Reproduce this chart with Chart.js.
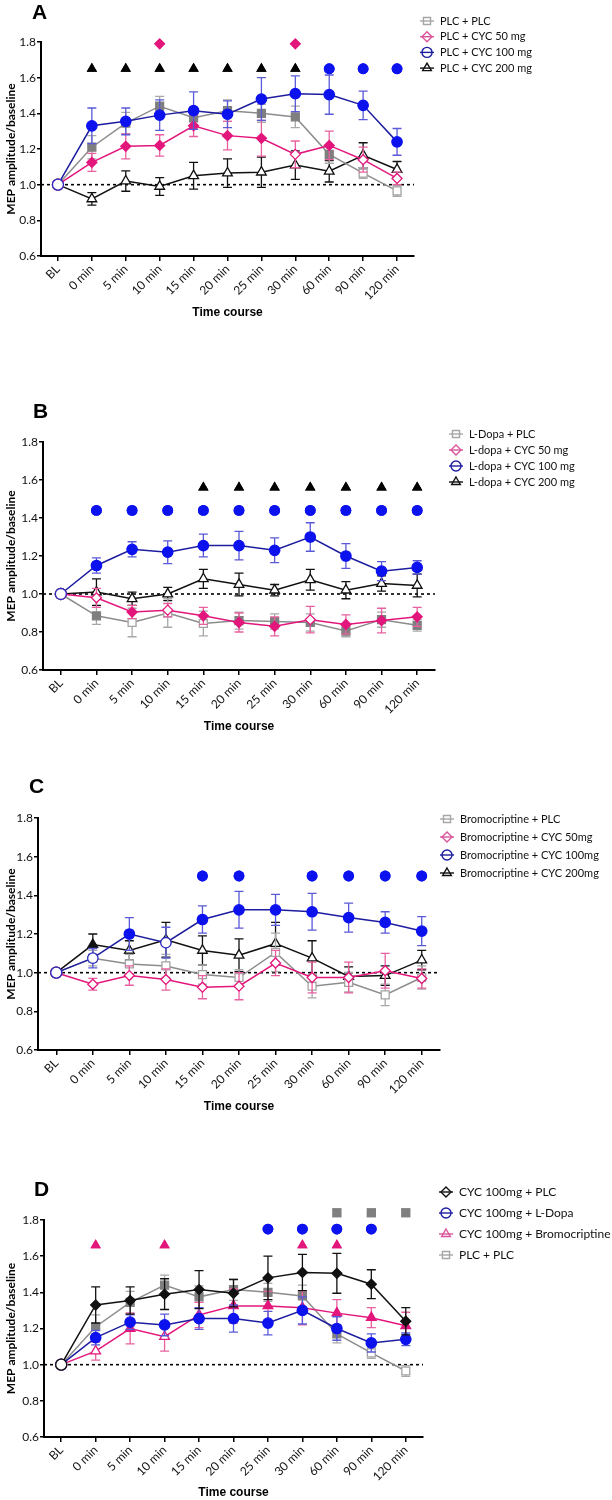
<!DOCTYPE html>
<html>
<head>
<meta charset="utf-8">
<script src="https://cdn.jsdelivr.net/npm/chart.js@4.4.1/dist/chart.umd.min.js"></script>
<style>
  body { margin: 0; background: #fff; }
  #wrap { position: relative; width: 612px; height: 1500px; }
  canvas { position: absolute; left: 0; }
</style>
</head>
<body>
<div id="wrap">
  <canvas id="chartA" width="612" height="340" style="top:0px"></canvas>
  <canvas id="chartB" width="612" height="420" style="top:340px"></canvas>
  <canvas id="chartC" width="612" height="370" style="top:760px"></canvas>
  <canvas id="chartD" width="612" height="370" style="top:1130px"></canvas>
</div>
<script>
const timeLabels = ['BL', '0 min', '5 min', '10 min', '15 min', '20 min', '25 min', '30 min', '60 min', '90 min', '120 min'];

// Panel A
const aPlcPlc = [1.00, 1.21, 1.345, 1.44, 1.375, 1.415, 1.40, 1.38, 1.17, 1.065, 0.965];
const aPlcPlcErr = [0, 0.065, 0.06, 0.055, 0.06, 0.06, 0.05, 0.06, 0.05, 0.03, 0.03];
const aCyc50 = [1.00, 1.125, 1.215, 1.22, 1.33, 1.275, 1.26, 1.17, 1.22, 1.14, 1.035];
const aCyc50Err = [0, 0.05, 0.07, 0.06, 0.06, 0.08, 0.10, 0.075, 0.08, 0.07, 0.035];
const aCyc100 = [1.00, 1.33, 1.355, 1.39, 1.415, 1.395, 1.48, 1.51, 1.505, 1.445, 1.24];
const aCyc100Err = [0, 0.10, 0.075, 0.085, 0.105, 0.075, 0.12, 0.10, 0.11, 0.08, 0.075];
const aCyc200 = [1.00, 0.92, 1.02, 0.99, 1.05, 1.065, 1.07, 1.11, 1.075, 1.165, 1.085];
const aCyc200Err = [0, 0.035, 0.057, 0.05, 0.075, 0.08, 0.085, 0.08, 0.06, 0.07, 0.045];
const aSigCyc50 = [null, null, null, 1.79, null, null, null, 1.79, null, null, null];
const aSigCyc100 = [null, null, null, null, null, null, null, null, 1.65, 1.65, 1.65];
const aSigCyc200 = [null, 1.65, 1.65, 1.65, 1.65, 1.65, 1.65, 1.65, null, null, null];

// Panel B
const bPlc = [1.00, 0.885, 0.85, 0.90, 0.845, 0.86, 0.855, 0.85, 0.805, 0.865, 0.835];
const bPlcErr = [0, 0.045, 0.075, 0.075, 0.065, 0.045, 0.04, 0.045, 0.03, 0.04, 0.03];
const bCyc50 = [1.00, 0.98, 0.905, 0.915, 0.885, 0.85, 0.83, 0.865, 0.84, 0.86, 0.88];
const bCyc50Err = [0, 0.05, 0.035, 0.035, 0.045, 0.05, 0.05, 0.07, 0.05, 0.065, 0.05];
const bCyc100 = [1.00, 1.15, 1.235, 1.22, 1.255, 1.255, 1.23, 1.30, 1.20, 1.12, 1.14];
const bCyc100Err = [0, 0.04, 0.04, 0.06, 0.06, 0.075, 0.065, 0.075, 0.065, 0.05, 0.035];
const bCyc200 = [1.00, 1.01, 0.975, 1.00, 1.08, 1.05, 1.02, 1.075, 1.02, 1.055, 1.045];
const bCyc200Err = [0, 0.07, 0.035, 0.035, 0.05, 0.06, 0.03, 0.055, 0.045, 0.04, 0.06];
const bSigCyc100 = [null, 1.44, 1.44, 1.44, 1.44, 1.44, 1.44, 1.44, 1.44, 1.44, 1.44];
const bSigCyc200 = [null, null, null, null, 1.56, 1.56, 1.56, 1.56, 1.56, 1.56, 1.56];

// Panel C
const cPlc = [1.00, 1.075, 1.045, 1.035, 0.99, 0.975, 1.105, 0.93, 0.95, 0.885, 0.975];
const cPlcErr = [0, 0.04, 0.05, 0.06, 0.05, 0.04, 0.10, 0.06, 0.05, 0.055, 0.06];
const cCyc50 = [1.00, 0.94, 0.985, 0.965, 0.925, 0.93, 1.05, 0.975, 0.975, 1.01, 0.97];
const cCyc50Err = [0, 0.03, 0.05, 0.055, 0.06, 0.07, 0.065, 0.08, 0.08, 0.09, 0.05];
const cCyc100 = [1.00, 1.075, 1.20, 1.155, 1.275, 1.325, 1.325, 1.315, 1.285, 1.26, 1.215];
const cCyc100Err = [0, 0.05, 0.085, 0.08, 0.07, 0.095, 0.08, 0.095, 0.075, 0.055, 0.075];
const cCyc200 = [1.00, 1.145, 1.115, 1.17, 1.115, 1.09, 1.15, 1.075, 0.98, 0.985, 1.065];
const cCyc200Err = [0, 0.055, 0.05, 0.09, 0.075, 0.085, 0.11, 0.09, 0.05, 0.05, 0.05];
const cSigCyc100 = [null, null, null, null, 1.5, 1.5, null, 1.5, 1.5, 1.5, 1.5];

// Panel D re-plots the CYC 100mg groups of A, B, C and PLC + PLC
const dSigLdopa = [null, null, null, null, null, null, 1.75, 1.75, 1.75, 1.75, null];
const dSigBromo = [null, 1.66, null, 1.66, null, null, null, 1.66, 1.66, null, null];
const dSigPlc = [null, null, null, null, null, null, null, null, 1.84, 1.84, 1.84];

// open (white) markers per time point, 1 = open
const aPlcPlcOpen = [1, 0, 0, 0, 0, 0, 0, 0, 0, 1, 1];
const aCyc50Open = [1, 0, 0, 0, 0, 0, 0, 1, 0, 1, 1];
const filledOpen = [1, 0, 0, 0, 0, 0, 0, 0, 0, 0, 0];
const allOpen = [1, 1, 1, 1, 1, 1, 1, 1, 1, 1, 1];
const bPlcOpen = [1, 0, 1, 1, 1, 0, 0, 0, 0, 0, 0];
const bCyc50Open = [1, 1, 0, 1, 0, 0, 0, 1, 0, 0, 0];
const cCyc100Open = [1, 1, 0, 1, 0, 0, 0, 0, 0, 0, 0];
const cCyc200Open = [1, 0, 1, 1, 1, 1, 1, 1, 1, 1, 1];

const GRAY = { line: '#8c8c8c', fill: '#7f7f7f', open: '#a3a3a3', err: '#a8a8a8', legend: '#a6a6a6' };
const PINK = { line: '#e3167c', fill: '#e3167c', open: '#e3167c', err: '#e8609f', legend: '#d9559a' };
const BLUE = { line: '#1d1da0', fill: '#0c12ee', open: '#2a2ac0', err: '#5a5ad8', legend: '#1d1da0' };
const BLACK = { line: '#111111', fill: '#111111', open: '#111111', err: '#111111', legend: '#111111' };

const markerSize = { circle: 5.2, rect: 5.6, rectRot: 5, triangle: 5.6 };
const markSize = { circle: 5.4, rect: 6.6, rectRot: 5.6, triangle: 6 };

const series = (label, values, errors, open, c, style, order) => ({
  label,
  data: values,
  errors,
  errorColor: c.err,
  legendColor: c.legend,
  legendStyle: style,
  showInLegend: true,
  order,
  borderColor: c.line,
  borderWidth: 1.5,
  pointStyle: values.map((v, i) => (i === 0 ? 'circle' : style)),
  pointRadius: values.map((v, i) => (i === 0 ? 5.5 : markerSize[style])),
  pointBackgroundColor: open.map((o) => (o ? '#ffffff' : c.fill)),
  pointBorderColor: open.map((o) => (o ? c.open : c.fill)),
  pointBorderWidth: 1.3,
  tension: 0,
  clip: false,
});

// significance symbols; they may sit above the top of the y axis
const marks = (values, color, style) => ({
  data: values,
  showLine: false,
  pointStyle: style,
  pointRadius: markSize[style],
  pointBackgroundColor: color,
  pointBorderColor: color,
  pointBorderWidth: 0,
  order: 0,
  clip: false,
  showInLegend: false,
  freeMarks: true,
});

// error bars, drawn right under their own series
const errorBars = {
  id: 'errorBars',
  beforeDatasetDraw(chart, args) {
    const ds = chart.data.datasets[args.index];
    if (!ds.errors) return;
    const { ctx, scales: { x, y } } = chart;
    ctx.save();
    ctx.strokeStyle = ds.errorColor;
    ctx.lineWidth = 1.3;
    ds.data.forEach((v, j) => {
      const e = ds.errors[j];
      if (v == null || !e) return;
      const px = x.getPixelForValue(j);
      const top = y.getPixelForValue(v + e);
      const bot = y.getPixelForValue(v - e);
      ctx.beginPath();
      ctx.moveTo(px, top);
      ctx.lineTo(px, bot);
      ctx.moveTo(px - 4.5, top);
      ctx.lineTo(px + 4.5, top);
      ctx.moveTo(px - 4.5, bot);
      ctx.lineTo(px + 4.5, bot);
      ctx.stroke();
    });
    ctx.restore();
  },
  // points above the chart area are skipped by Chart.js, so redraw the marks with the whole canvas as area
  afterDatasetsDraw(chart) {
    const whole = { left: 0, top: 0, right: chart.width, bottom: chart.height };
    chart.data.datasets.forEach((ds, i) => {
      if (!ds.freeMarks) return;
      chart.getDatasetMeta(i).data.forEach((pt) => {
        if (!pt.skip) pt.draw(chart.ctx, whole);
      });
    });
  },
};

// dotted baseline at 1.0
const baseline = {
  id: 'baseline',
  beforeDatasetsDraw(chart) {
    const { ctx, chartArea, scales: { y } } = chart;
    const py = y.getPixelForValue(1.0);
    ctx.save();
    ctx.strokeStyle = '#000';
    ctx.lineWidth = 1.6;
    ctx.setLineDash([3, 3]);
    ctx.beginPath();
    ctx.moveTo(chartArea.left, py);
    ctx.lineTo(chartArea.right, py);
    ctx.stroke();
    ctx.restore();
  },
};

// panel letter and the legend
const panelDecor = {
  id: 'panelDecor',
  afterDraw(chart, args, opts) {
    const { ctx } = chart;
    ctx.save();
    ctx.fillStyle = '#000';
    ctx.font = 'bold 21px "Liberation Sans"';
    ctx.textBaseline = 'alphabetic';
    ctx.fillText(opts.letter, opts.letterX, opts.letterY);
    ctx.font = `${opts.legendSize}px Lato`;
    ctx.textBaseline = 'middle';
    chart.data.datasets.filter((d) => d.showInLegend).forEach((ds, i) => {
      const y = opts.legendY + i * opts.legendStep;
      const mx = opts.legendX - 13;
      ctx.strokeStyle = ds.legendColor;
      ctx.lineWidth = 1.4;
      ctx.beginPath();
      ctx.moveTo(mx - 7, y);
      ctx.lineTo(mx + 7, y);
      ctx.stroke();
      ctx.fillStyle = 'rgba(255,255,255,0)';
      Chart.helpers.drawPoint(ctx, { pointStyle: ds.legendStyle, radius: 5, borderWidth: 1.4, rotation: 0 }, mx, y);
      ctx.fillStyle = '#111';
      ctx.fillText(ds.label, opts.legendX, y);
    });
    ctx.restore();
  },
};

const tickFont = { family: 'Lato', size: 12 };

const makePanel = (canvasId, panel, datasets) => new Chart(document.getElementById(canvasId), {
  type: 'line',
  data: { labels: timeLabels, datasets },
  options: {
    responsive: false,
    animation: false,
    events: [],
    layout: {
      padding: {
        top: panel.chartTop - panel.top,
        right: 612 - panel.right,
        bottom: panel.top + panel.height - panel.chartBottom - panel.xAxisH,
        left: 0,
      },
    },
    scales: {
      x: {
        type: 'category',
        offset: true,
        grid: { display: true, drawOnChartArea: false, drawTicks: true, tickLength: 5, color: '#000', lineWidth: 1.5 },
        border: { display: true, color: '#000', width: 2 },
        ticks: { autoSkip: false, minRotation: 45, maxRotation: 45, padding: 1, color: '#111', font: tickFont },
        title: {
          display: true,
          text: 'Time course',
          color: '#000',
          font: { family: 'Liberation Sans', weight: 'bold', size: 12 },
          padding: { top: 0, bottom: 0 },
        },
        afterFit: (scale) => { scale.height = panel.xAxisH; },
      },
      y: {
        min: 0.6,
        max: 1.8,
        grid: { display: true, drawOnChartArea: false, drawTicks: true, tickLength: 4, color: '#000', lineWidth: 1.5 },
        border: { display: true, color: '#000', width: 2 },
        ticks: { stepSize: 0.2, padding: 1, color: '#111', font: tickFont, callback: (v) => v.toFixed(1) },
        title: {
          display: true,
          text: 'MEP amplitude/baseline',
          color: '#000',
          font: { family: 'Lato', weight: 'bold', size: 12 },
          padding: { top: 4, bottom: 0 },
        },
        afterFit: (scale) => { scale.width = panel.left; },
      },
    },
    plugins: {
      legend: { display: false },
      tooltip: { enabled: false },
      panelDecor: {
        letter: panel.letter,
        letterX: panel.letterX,
        letterY: panel.letterY - panel.top,
        legendX: panel.legendX,
        legendY: panel.legendY - panel.top,
        legendStep: panel.legendStep,
        legendSize: panel.legendSize,
      },
    },
  },
  plugins: [errorBars, baseline, panelDecor],
});

const drawAll = () => {
  makePanel('chartA', {
    top: 0, height: 340, chartTop: 42, chartBottom: 256, left: 41, right: 414, xAxisH: 64,
    letter: 'A', letterX: 32, letterY: 19, legendX: 440, legendY: 21, legendStep: 15.7, legendSize: 11,
  }, [
    series('PLC + PLC', aPlcPlc, aPlcPlcErr, aPlcPlcOpen, GRAY, 'rect', 3),
    series('PLC + CYC 50 mg', aCyc50, aCyc50Err, aCyc50Open, PINK, 'rectRot', 2),
    series('PLC + CYC 100 mg', aCyc100, aCyc100Err, filledOpen, BLUE, 'circle', 1),
    series('PLC + CYC 200 mg', aCyc200, aCyc200Err, allOpen, BLACK, 'triangle', 4),
    marks(aSigCyc50, PINK.fill, 'rectRot'),
    marks(aSigCyc100, BLUE.fill, 'circle'),
    marks(aSigCyc200, '#000', 'triangle'),
  ]);

  makePanel('chartB', {
    top: 340, height: 420, chartTop: 442, chartBottom: 670, left: 43, right: 435, xAxisH: 64,
    letter: 'B', letterX: 33, letterY: 418, legendX: 469, legendY: 434, legendStep: 16, legendSize: 11,
  }, [
    series('L-Dopa + PLC', bPlc, bPlcErr, bPlcOpen, GRAY, 'rect', 3),
    series('L-dopa + CYC 50 mg', bCyc50, bCyc50Err, bCyc50Open, PINK, 'rectRot', 2),
    series('L-dopa + CYC 100 mg', bCyc100, bCyc100Err, filledOpen, BLUE, 'circle', 1),
    series('L-dopa + CYC 200 mg', bCyc200, bCyc200Err, allOpen, BLACK, 'triangle', 4),
    marks(bSigCyc100, BLUE.fill, 'circle'),
    marks(bSigCyc200, '#000', 'triangle'),
  ]);

  makePanel('chartC', {
    top: 760, height: 370, chartTop: 818, chartBottom: 1050, left: 38, right: 440, xAxisH: 64,
    letter: 'C', letterX: 29, letterY: 793, legendX: 460, legendY: 819, legendStep: 18, legendSize: 11,
  }, [
    series('Bromocriptine + PLC', cPlc, cPlcErr, allOpen, GRAY, 'rect', 3),
    series('Bromocriptine + CYC 50mg', cCyc50, cCyc50Err, allOpen, PINK, 'rectRot', 2),
    series('Bromocriptine + CYC 100mg', cCyc100, cCyc100Err, cCyc100Open, BLUE, 'circle', 1),
    series('Bromocriptine + CYC 200mg', cCyc200, cCyc200Err, cCyc200Open, BLACK, 'triangle', 4),
    marks(cSigCyc100, BLUE.fill, 'circle'),
  ]);

  makePanel('chartD', {
    top: 1130, height: 370, chartTop: 1220, chartBottom: 1437, left: 44, right: 423, xAxisH: 63,
    letter: 'D', letterX: 34, letterY: 1196, legendX: 459, legendY: 1192, legendStep: 21, legendSize: 12,
  }, [
    series('CYC 100mg + PLC', aCyc100, aCyc100Err, filledOpen, BLACK, 'rectRot', 1),
    series('CYC 100mg + L-Dopa', bCyc100, bCyc100Err, filledOpen, BLUE, 'circle', 2),
    series('CYC 100mg + Bromocriptine', cCyc100, cCyc100Err, cCyc100Open, PINK, 'triangle', 3),
    series('PLC + PLC', aPlcPlc, aPlcPlcErr, aPlcPlcOpen, GRAY, 'rect', 4),
    marks(dSigPlc, GRAY.fill, 'rect'),
    marks(dSigLdopa, BLUE.fill, 'circle'),
    marks(dSigBromo, PINK.fill, 'triangle'),
  ]);
};

Promise.all([
  document.fonts.load('12px Lato'),
  document.fonts.load('bold 12px Lato'),
  document.fonts.load('bold 12px "Liberation Sans"'),
]).then(drawAll, drawAll);
</script>
</body>
</html>
